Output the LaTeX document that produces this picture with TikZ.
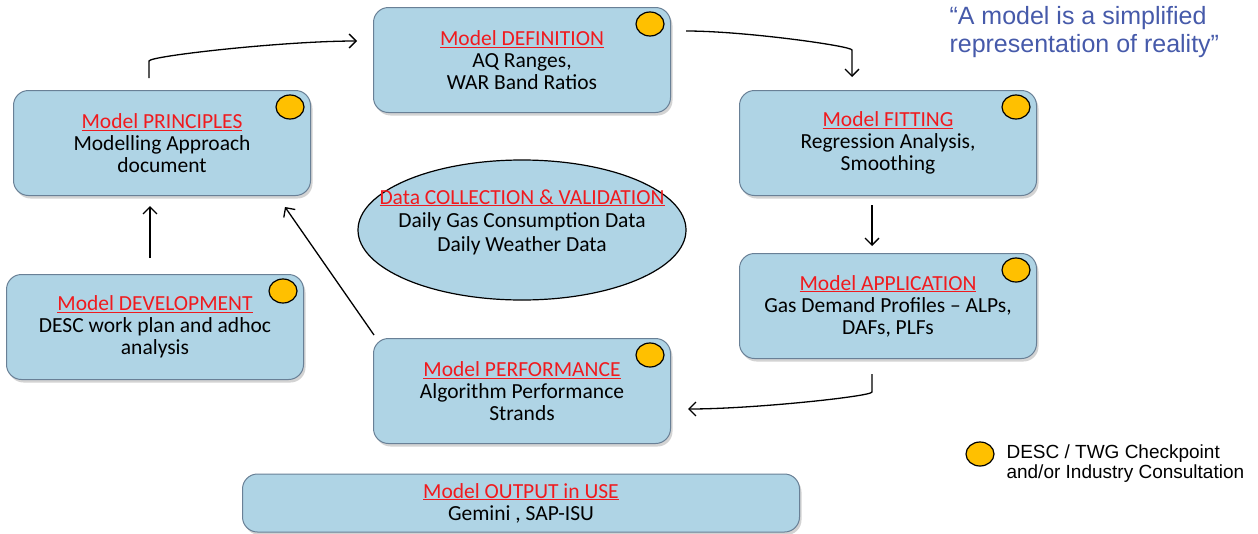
\documentclass[tikz,border=0pt]{standalone}
\usepackage{fontspec}
\setmainfont{Carlito}
\newfontfamily\arialfont{Liberation Sans}
\usetikzlibrary{shapes.geometric, arrows.meta, positioning, shadows}
\definecolor{boxblue}{RGB}{175,212,229}
\definecolor{boxedge}{RGB}{105,128,150}
\definecolor{titlered}{RGB}{240,26,30}
\definecolor{checkgold}{RGB}{255,192,0}
\definecolor{quoteblue}{RGB}{70,90,170}
\newcommand{\stagetitle}[1]{{\color{titlered}\underline{#1}}}

\begin{document}
\begin{tikzpicture}[x=1pt, y=-1pt,
  stagebox/.style={draw=boxedge, fill=boxblue, rounded corners=15pt, minimum width=297pt, minimum height=105pt, align=center, font=\fontsize{21.5}{22}\selectfont, inner sep=4pt, line width=1pt, drop shadow={shadow xshift=2pt, shadow yshift=-3pt, opacity=0.35}},
  checkpt/.style={draw, ellipse, fill=checkgold, line width=1.2pt, minimum width=28pt, minimum height=24pt, inner sep=0pt},
  arr/.style={-{Straight Barb[length=7pt, width=14pt]}, line width=1.3pt}
]
  \useasboundingbox (0,0) rectangle (1258,533);

  % Stages of the cycle
  \node[stagebox] (prin) at (162,143) {
    \stagetitle{Model PRINCIPLES}\\
    Modelling Approach\\
    document
  };
  \node[stagebox] (def) at (522,60) {
    \stagetitle{Model DEFINITION}\\
    AQ Ranges,\\
    WAR Band Ratios
  };
  \node[stagebox] (fit) at (888,143) {
    \stagetitle{Model FITTING}\\
    Regression Analysis,\\
    Smoothing
  };
  \node[stagebox] (app) at (888,306) {
    \stagetitle{Model APPLICATION}\\
    Gas Demand Profiles -- ALPs,\\
    DAFs, PLFs
  };
  \node[stagebox] (perf) at (522,391) {
    \stagetitle{Model PERFORMANCE}\\
    Algorithm Performance\\
    Strands
  };
  \node[stagebox] (dev) at (155,327) {
    \stagetitle{Model DEVELOPMENT}\\
    DESC work plan and adhoc\\
    analysis
  };
  \node[stagebox, minimum width=557pt, minimum height=58pt] (out) at (521,503) {
    \stagetitle{Model OUTPUT in USE}\\
    Gemini , SAP-ISU
  };

  % Data in the middle
  \node[draw, ellipse, fill=boxblue, line width=1.2pt, minimum width=328pt, minimum height=140pt] (coll) at (522,230) {};
  \node[align=center, font=\fontsize{21.5}{23.5}\selectfont] (colltxt) at ([shift={(0,-8)}]coll.center) {
    \stagetitle{Data COLLECTION \& VALIDATION}\\
    Daily Gas Consumption Data\\
    Daily Weather Data
  };

  % Checkpoints
  \foreach \s in {prin, def, fit, app, perf, dev}
    \node[checkpt] (chk-\s) at ([shift={(-21,17)}]\s.north east) {};

  % Arrows
  \draw[arr] ([shift={(-5,-16)}]dev.north) -- ([shift={(-12,10)}]prin.south);
  \draw[arr] ([shift={(-13,-12)}]prin.north) -- ++(0,-17)
    to[out=90, in=180, out looseness=0.06, in looseness=0.9] ([shift={(-16,-19)}]def.west);
  \draw[arr] ([shift={(15,-29)}]def.east)
    to[out=0, in=90, out looseness=0.9, in looseness=0.06] ++(166,19) -- ([shift={(-36,-13)}]fit.north);
  \draw[arr] ([shift={(-16,-7)}]fit.south) ++(0,16) -- ([shift={(-16,-7)}]app.north);
  \draw[arr] ([shift={(-16,15)}]app.south) -- ++(0,18)
    to[out=-90, in=0, out looseness=0.06, in looseness=0.9] ([shift={(17,18)}]perf.east);
  \draw[arr] ([shift={(1,-3)}]perf.north west) -- ([shift={(-26,11)}]prin.south east);

  % Quote and legend
  \node[anchor=west, align=left, text=quoteblue, font=\arialfont\fontsize{25}{28}\selectfont] (quote) at (946,32) {
    “A model is a simplified\\
    representation of reality”
  };
  \node[checkpt] (leg) at (980,454) {};
  \node[anchor=west, align=left, font=\arialfont\fontsize{19}{20}\selectfont] (legtxt) at (1003,464) {
    DESC / TWG Checkpoint\\
    and/or Industry Consultation
  };
\end{tikzpicture}
\end{document}
